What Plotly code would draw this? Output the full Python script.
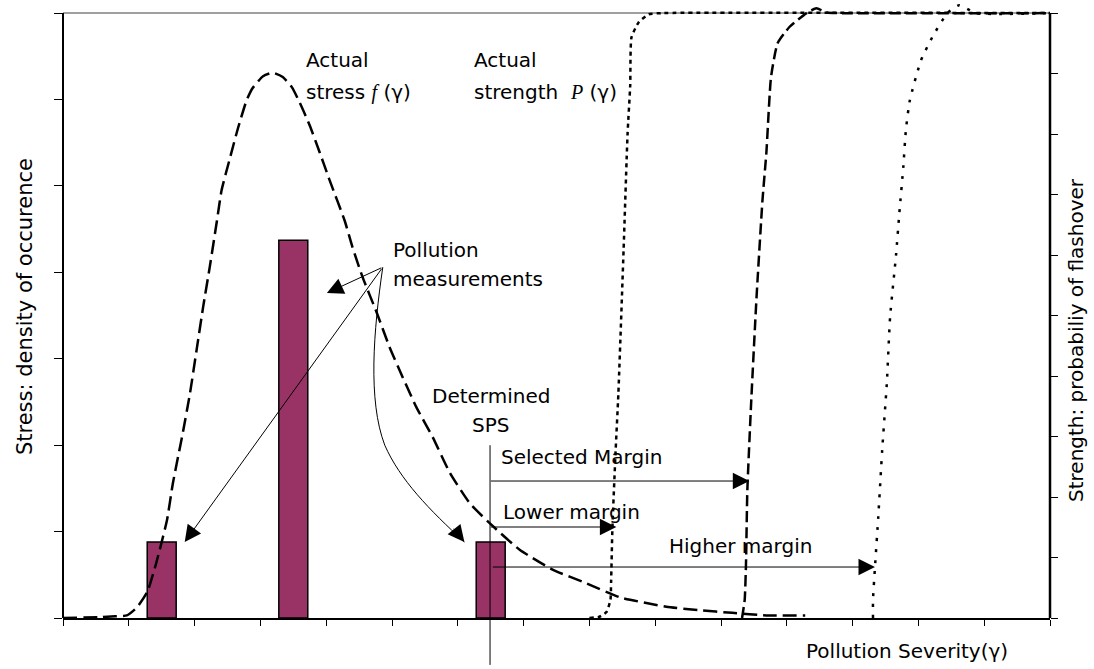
import plotly.graph_objects as go

# pollution measurements (bars, left axis)
bar_x = [1.5, 3.5, 6.5]
bar_h = [0.88, 4.37, 0.88]

# actual stress f(gamma), left axis
stress_x = [0.00, 0.56, 0.79, 0.97, 1.12, 1.28, 1.40, 1.47, 1.58, 1.67, 1.82, 1.93,
            2.03, 2.13, 2.23, 2.34, 2.41, 2.54, 2.66, 2.79, 2.88, 3.04, 3.19, 3.34,
            3.48, 3.60, 3.75, 3.90, 4.05, 4.28, 4.40, 4.55, 4.77, 4.96, 5.16, 5.37,
            5.62, 5.88, 6.18, 6.48, 6.94, 7.44, 7.96, 8.46, 9.17, 9.67, 10.17, 10.69, 11.28]
stress_y = [0.00, 0.01, 0.02, 0.03, 0.12, 0.30, 0.59, 0.79, 1.13, 1.56, 2.14, 2.60,
            3.10, 3.60, 4.06, 4.60, 4.95, 5.33, 5.67, 5.99, 6.13, 6.27, 6.31, 6.26,
            6.14, 5.96, 5.70, 5.39, 5.07, 4.60, 4.29, 3.95, 3.53, 3.14, 2.79, 2.44,
            2.09, 1.68, 1.33, 1.10, 0.79, 0.56, 0.40, 0.24, 0.13, 0.09, 0.06, 0.03, 0.03]

# actual strength P(gamma), right axis - three insulator designs
low_x = [8.00, 8.15, 8.26, 8.32, 8.33, 8.35, 8.40, 8.44, 8.52, 8.58, 8.62, 8.64, 8.75, 8.90, 9.10, 15.0]
low_p = [0.00, 0.002, 0.01, 0.03, 0.06, 0.15, 0.28, 0.37, 0.61, 0.80, 0.88, 0.96, 0.985, 0.998, 1.0, 1.0]

sel_x = [10.32, 10.36, 10.38, 10.40, 10.46, 10.54, 10.63, 10.69, 10.76, 10.86, 11.04, 11.30, 11.45, 11.60, 11.80, 15.0]
sel_p = [0.00, 0.03, 0.09, 0.21, 0.36, 0.53, 0.69, 0.77, 0.894, 0.95, 0.977, 1.0, 1.008, 1.001, 1.0, 1.0]

high_x = [12.31, 12.31, 12.34, 12.39, 12.45, 12.52, 12.57, 12.66, 12.71, 12.77, 12.81, 12.87,
          13.04, 13.21, 13.44, 13.62, 13.88, 15.0]
high_p = [0.00, 0.03, 0.084, 0.167, 0.278, 0.388, 0.498, 0.60, 0.669, 0.745, 0.807, 0.856,
          0.922, 0.96, 1.0, 1.013, 1.0, 1.0]

FONT = "DejaVu Sans"
BAR_COLOR = "#993366"

fig = go.Figure()

fig.add_trace(go.Bar(x=bar_x, y=bar_h, width=0.44, marker=dict(color=BAR_COLOR, line=dict(color="black", width=1.5)),
                     yaxis="y"))
fig.add_trace(go.Scatter(x=stress_x, y=stress_y, mode="lines", yaxis="y",
                         line=dict(color="black", width=2.5, dash="14px,6px", shape="spline", smoothing=0.5)))
fig.add_trace(go.Scatter(x=low_x, y=low_p, mode="lines", yaxis="y2",
                         line=dict(color="black", width=2.5, dash="4px,4px", shape="spline", smoothing=0.5)))
fig.add_trace(go.Scatter(x=sel_x, y=sel_p, mode="lines", yaxis="y2",
                         line=dict(color="black", width=2.5, dash="11px,5px", shape="spline", smoothing=0.5)))
fig.add_trace(go.Scatter(x=high_x, y=high_p, mode="lines", yaxis="y2",
                         line=dict(color="black", width=2.5, dash="3px,8px", shape="spline", smoothing=0.5)))

# frame lines
shapes = [
    dict(type="line", xref="paper", yref="y", x0=0, x1=1, y0=7, y1=7, line=dict(color="#808080", width=1.5), layer="below"),
    dict(type="line", xref="paper", yref="y", x0=0, x1=0, y0=0, y1=7, line=dict(color="black", width=2)),
    dict(type="line", xref="paper", yref="y", x0=1, x1=1, y0=0, y1=7, line=dict(color="black", width=2.5)),
    # determined SPS marker
    dict(type="line", xref="x", yref="paper", x0=6.49, x1=6.49, y0=0.280, y1=-0.076, line=dict(color="black", width=1)),
    # curved pointer towards the third measurement
    dict(type="path", xref="x", yref="y",
         path="M 4.86,4.06 C 4.72,3.33 4.63,2.52 4.89,2.00 C 5.12,1.60 5.57,1.25 6.10,0.88",
         line=dict(color="black", width=1)),
]

ann = []


def arrow(x, y, ax, ay):
    ann.append(dict(x=x, y=y, ax=ax, ay=ay, xref="x", yref="y", axref="x", ayref="y", text="",
                    showarrow=True, arrowhead=2, arrowsize=3.3, arrowwidth=1, arrowcolor="black", standoff=0))


arrow(10.43, 1.585, 6.48, 1.585)
arrow(8.41, 1.053, 6.48, 1.053)
arrow(12.34, 0.59, 6.51, 0.59)
arrow(4.01, 3.76, 4.86, 4.06)
arrow(1.85, 0.88, 4.86, 4.06)
arrow(6.10, 0.88, 5.92, 1.05)


def label(txt, x, y, xanchor="left"):
    ann.append(dict(x=x, y=y, xref="x", yref="y", text=txt, showarrow=False, xanchor=xanchor, yanchor="middle",
                    font=dict(family=FONT, size=20, color="black")))


ital = "<span style='font-family:Liberation Serif;font-style:italic'>%s</span>"
label("Actual", 3.67, 6.46)
label("stress " + ital % "f" + " (γ)", 3.67, 6.09)
label("Actual", 6.22, 6.46)
label("strength  " + ital % "P" + " (γ)", 6.22, 6.09)
label("Pollution", 4.98, 4.26)
label("measurements", 4.98, 3.92)
label("Determined", 6.50, 2.57, "center")
label("SPS", 6.50, 2.23, "center")
label("Selected Margin", 6.63, 1.86)
label("Lower margin", 6.66, 1.23)
label("Higher margin", 9.18, 0.83)

ann.append(dict(x=11.26, y=-0.0535, xref="x", yref="paper", text="Pollution Severity(γ)", showarrow=False,
                xanchor="left", yanchor="middle", font=dict(family=FONT, size=20, color="black")))
ann.append(dict(x=-0.0385, y=0.504, xref="paper", yref="paper", text="Stress: density of occurence", showarrow=False,
                textangle=-90, xanchor="center", yanchor="middle", font=dict(family=FONT, size=21, color="black")))
ann.append(dict(x=1.027, y=0.45, xref="paper", yref="paper", text="Strength: probabiliy of flashover", showarrow=False,
                textangle=-90, xanchor="center", yanchor="middle", font=dict(family=FONT, size=20, color="black")))

tickstyle = dict(showticklabels=False, showgrid=False, zeroline=False, tickcolor="black", tickwidth=1)

fig.update_layout(
    width=1094, height=669,
    margin=dict(l=63, r=44, t=1, b=51),
    paper_bgcolor="white", plot_bgcolor="white",
    showlegend=False, hovermode=False,
    font=dict(family=FONT, size=20, color="black"),
    xaxis=dict(range=[0, 15], tick0=0, dtick=1, ticks="outside", ticklen=6,
               showline=True, linecolor="black", linewidth=2, **tickstyle),
    yaxis=dict(range=[0, 7.14], tick0=0, dtick=1, ticks="outside", ticklen=8, showline=False, **tickstyle),
    yaxis2=dict(range=[0, 1.02], tick0=0, dtick=0.1, ticks="outside", ticklen=7, overlaying="y", side="right",
                showline=False, **tickstyle),
    yaxis3=dict(range=[0, 1.02], tick0=0, dtick=0.1, ticks="inside", ticklen=7, overlaying="y", side="right",
                showline=False, **tickstyle),
    shapes=shapes,
    annotations=ann,
)

fig.write_html("out.html", config={"displayModeBar": False},
               post_script="document.body.style.margin='0px';")
